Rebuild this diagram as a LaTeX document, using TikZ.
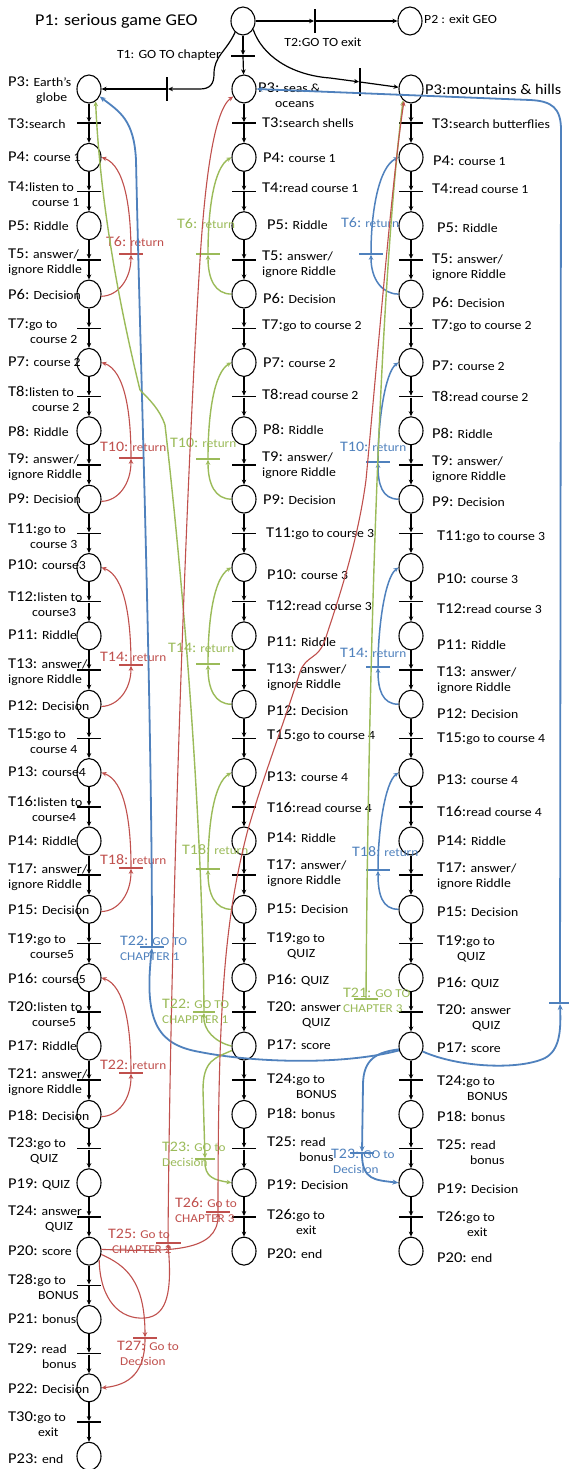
\documentclass[tikz,border=0pt]{standalone}
\usepackage{fontspec}
\setmainfont{Carlito}[FakeStretch=1.1]
\usetikzlibrary{shapes.geometric,arrows.meta}
\definecolor{pnred}{RGB}{192,80,77}
\definecolor{pngreen}{RGB}{155,187,89}
\definecolor{pnblue}{RGB}{79,129,189}
% larger type for the P/T identifiers
\newcommand{\tg}[1]{{\fontsize{15}{15}\selectfont #1}}
% identifiers of the coloured transitions
\newcommand{\tc}[1]{{\fontsize{14.5}{15}\selectfont #1}}
% label node: name, x, y, text
\newcommand{\lb}[4]{\node[lbl] (#1) at (#2,#3) {#4};}
% coloured label node: name, x, y, text, colour
\newcommand{\clb}[5]{\node[clbl,text=#5] (#1) at (#2,#3) {#4};}

\begin{document}
\begin{tikzpicture}[x=1pt,y=-1pt,
  place/.style={draw,ellipse,line width=1.1pt,minimum width=24pt,minimum height=28pt,inner sep=0pt},
  hbar/.style={fill=#1,inner sep=0pt,minimum width=24pt,minimum height=1.5pt},
  hbar/.default=black,
  vbar/.style={fill=black,inner sep=0pt,minimum width=1.5pt,minimum height=24pt},
  flow/.style={line width=1.2pt,-{Stealth[length=5pt,width=4.5pt]}},
  redL/.style={draw=pnred,line width=1.1pt,-{Stealth[length=5pt,width=4.5pt]}},
  greenL/.style={draw=pngreen,line width=1.4pt,-{Stealth[length=5pt,width=4.5pt]}},
  blueR/.style={draw=pnblue,line width=1.5pt,-{Stealth[length=5pt,width=4.5pt]}},
  blueL/.style={draw=pnblue,line width=1.8pt,-{Stealth[length=6pt,width=5pt]}},
  lbl/.style={anchor=west,inner sep=0pt,align=left,font=\fontsize{12.5}{15}\selectfont},
  clbl/.style={anchor=west,inner sep=0pt,align=left,font=\fontsize{12}{15}\selectfont},
]
\fill[white] (0,0) rectangle (569,1469);
\useasboundingbox (0,0) rectangle (569,1469);

% ---------- top level ----------
\node[place] (P1) at (243,21) {};
\node[place] (P2) at (410,21) {};
\node[vbar] (tT2) at (315,21) {};
\node[hbar] (tT1) at (243,56) {};
\node[vbar] (tL) at (167,89) {};
\node[vbar,minimum height=28pt] (tR) at (360,82) {};

\node[inner sep=0pt,anchor=west,font=\fontsize{16.5}{17}\selectfont] (tP1) at (35,21) {P1: serious game GEO};
\lb{tP2}{424}{19}{P2 : exit GEO}
\node[lbl,anchor=center] (tT2t) at (323,42) {T2:GO TO exit};
\node[lbl,anchor=east] (tT1t) at (221,55) {T1: GO TO chapter};

% ---------- the three chapter columns ----------
\foreach \r in {0,2,...,40} \node[place] (L\r) at (89,{89+34.18*\r}) {};
\foreach \r in {1,3,...,39} \node[hbar] (L\r) at (89,{89+34.18*\r}) {};
\foreach \r [count=\n from 1] in {0,...,39} \draw[flow] (L\r) -- (L\n);

\foreach \r in {0,2,...,34} \node[place] (M\r) at (244,{89+34.18*\r}) {};
\foreach \r in {1,3,...,33} \node[hbar] (M\r) at (244,{89+34.18*\r}) {};
\foreach \r [count=\n from 1] in {0,...,33} \draw[flow] (M\r) -- (M\n);

\foreach \r in {0,2,...,34} \node[place] (R\r) at (411,{89+34.18*\r}) {};
\foreach \r in {1,3,...,33} \node[hbar] (R\r) at (411,{89+34.18*\r}) {};
\foreach \r [count=\n from 1] in {0,...,33} \draw[flow] (R\r) -- (R\n);

% top arcs
\draw[flow] (P1) -- (tT2);
\draw[flow] (tT2) -- (P2);
\draw[flow] (P1) -- (tT1);
\draw[flow] (tT1) -- (M0);
\draw[flow] (P1.235) .. controls (226,52) and (214,56) .. (214,74) .. controls (214,84) and (210,89) .. (200,89) -- (tL);
\draw[flow] (tL) -- (L0);
\draw[flow] (P1.-40) .. controls (262,55) and (290,75) .. (330,78) -- (tR);
\draw[flow] (tR) -- (R0);

% ---------- labels, chapter 1 ----------
\lb{lP3}{8}{90}{\tg{P3:} Earth’s\\\hspace*{28pt}globe}
\lb{lT3}{8}{124}{\tg{T3:}search}
\lb{lP4}{8}{157}{\tg{P4:} course 1}
\lb{lT4}{8}{194}{\tg{T4:}listen to\\\hspace*{24pt}course 1}
\lb{lP5}{8}{226}{\tg{P5:} Riddle}
\lb{lT5}{8}{262}{\tg{T5:} answer/\\ignore Riddle}
\lb{lP6}{8}{294}{\tg{P6:} Decision}
\lb{lT7}{8}{331}{\tg{T7:}go to\\\hspace*{22pt}course 2}
\lb{lP7}{8}{362}{\tg{P7:} course 2}
\lb{lT8}{8}{399}{\tg{T8:}listen to\\\hspace*{24pt}course 2}
\lb{lP8}{8}{431}{\tg{P8:} Riddle}
\lb{lT9}{8}{467}{\tg{T9:} answer/\\ignore Riddle}
\lb{lP9}{8}{499}{\tg{P9:} Decision}
\lb{lT11}{8}{536}{\tg{T11:}go to\\\hspace*{22pt}course 3}
\lb{lP10}{8}{565}{\tg{P10:} course3}
\lb{lT12}{8}{604}{\tg{T12:}listen to\\\hspace*{24pt}course3}
\lb{lP11}{8}{635}{\tg{P11:} Riddle}
\lb{lT13}{8}{672}{\tg{T13:} answer/\\ignore Riddle}
\lb{lP12}{8}{706}{\tg{P12:} Decision}
\lb{lT15}{8}{741}{\tg{T15:}go to\\\hspace*{22pt}course 4}
\lb{lP13}{8}{772}{\tg{P13:} course4}
\lb{lT16}{8}{809}{\tg{T16:}listen to\\\hspace*{24pt}course4}
\lb{lP14}{8}{841}{\tg{P14:} Riddle}
\lb{lT17}{8}{877}{\tg{T17:} answer/\\ignore Riddle}
\lb{lP15}{8}{910}{\tg{P15:} Decision}
\lb{lT19}{8}{946}{\tg{T19:}go to\\\hspace*{22pt}course5}
\lb{lP16}{8}{978}{\tg{P16:} course5}
\lb{lT20}{8}{1014}{\tg{T20:}listen to\\\hspace*{24pt}course5}
\lb{lP17}{8}{1046}{\tg{P17:} Riddle}
\lb{lT21}{8}{1082}{\tg{T21:} answer/\\ignore Riddle}
\lb{lP18}{8}{1115}{\tg{P18:} Decision}
\lb{lT23}{8}{1151}{\tg{T23:}go to\\\hspace*{22pt}QUIZ}
\lb{lP19}{8}{1184}{\tg{P19:} QUIZ}
\lb{lT24}{8}{1219}{\tg{T24:} answer\\\hspace*{37pt}QUIZ}
\lb{lP20}{8}{1251}{\tg{P20:} score}
\lb{lT28}{8}{1287}{\tg{T28:}go to\\\hspace*{30pt}BONUS}
\lb{lP21}{8}{1319}{\tg{P21:} bonus}
\lb{lT29}{8}{1356}{\tg{T29:} read\\\hspace*{34pt}bonus}
\lb{lP22}{8}{1389}{\tg{P22:} Decision}
\lb{lT30}{8}{1424}{\tg{T30:}go to\\\hspace*{30pt}exit}
\lb{lP23}{8}{1459}{\tg{P23:} end}

% ---------- labels, chapter 2 ----------
\lb{mP3}{258}{95}{\tg{P3:} seas \&\\\hspace*{17pt}oceans}
\lb{mT3}{262}{123}{\tg{T3:}search shells}
\lb{mP4}{263}{158}{\tg{P4:} course 1}
\lb{mT4}{262}{188}{\tg{T4:}read course 1}
\lb{mP5}{267}{225}{\tg{P5:} Riddle}
\lb{mT5}{262}{264}{\tg{T5:} answer/\\ignore Riddle}
\lb{mP6}{263}{298}{\tg{P6:} Decision}
\lb{mT7}{262}{326}{\tg{T7:}go to course 2}
\lb{mP7}{263}{363}{\tg{P7:} course 2}
\lb{mT8}{262}{394}{\tg{T8:}read course 2}
\lb{mP8}{263}{429}{\tg{P8:} Riddle}
\lb{mT9}{262}{465}{\tg{T9:} answer/\\ignore Riddle}
\lb{mP9}{263}{500}{\tg{P9:} Decision}
\lb{mT11}{266}{534}{\tg{T11:}go to course 3}
\lb{mP10}{267}{575}{\tg{P10:} course 3}
\lb{mT12}{267}{606}{\tg{T12:}read course 3}
\lb{mP11}{267}{642}{\tg{P11:} Riddle}
\lb{mT13}{267}{677}{\tg{T13:} answer/\\ignore Riddle}
\lb{mP12}{267}{711}{\tg{P12:} Decision}
\lb{mT15}{267}{736}{\tg{T15:}go to course 4}
\lb{mP13}{267}{777}{\tg{P13:} course 4}
\lb{mT16}{267}{807}{\tg{T16:}read course 4}
\lb{mP14}{267}{838}{\tg{P14:} Riddle}
\lb{mT17}{267}{873}{\tg{T17:} answer/\\ignore Riddle}
\lb{mP15}{267}{909}{\tg{P15:} Decision}
\lb{mT19}{267}{946}{\tg{T19:}go to\\\hspace*{20pt}QUIZ}
\lb{mP16}{267}{980}{\tg{P16:} QUIZ}
\lb{mT20}{267}{1015}{\tg{T20:} answer\\\hspace*{35pt}QUIZ}
\lb{mP17}{267}{1045}{\tg{P17:} score}
\lb{mT24}{267}{1086}{\tg{T24:}go to\\\hspace*{29pt}BONUS}
\lb{mP18}{267}{1113}{\tg{P18:} bonus}
\lb{mT25}{267}{1149}{\tg{T25:} read\\\hspace*{32pt}bonus}
\lb{mP19}{267}{1185}{\tg{P19:} Decision}
\lb{mT26}{267}{1222}{\tg{T26:}go to\\\hspace*{29pt}exit}
\lb{mP20}{267}{1254}{\tg{P20:} end}

% ---------- labels, chapter 3 ----------
\lb{rP3}{425}{89}{\tg{P3:}{\fontsize{14.8}{15}\selectfont mountains \& hills}}
\lb{rT3}{432}{124}{\tg{T3:}search butterflies}
\lb{rP4}{433}{161}{\tg{P4:} course 1}
\lb{rT4}{432}{189}{\tg{T4:}read course 1}
\lb{rP5}{437}{228}{\tg{P5:} Riddle}
\lb{rT5}{432}{267}{\tg{T5:} answer/\\ignore Riddle}
\lb{rP6}{432}{302}{\tg{P6:} Decision}
\lb{rT7}{432}{326}{\tg{T7:}go to course 2}
\lb{rP7}{432}{366}{\tg{P7:} course 2}
\lb{rT8}{432}{396}{\tg{T8:}read course 2}
\lb{rP8}{432}{433}{\tg{P8:} Riddle}
\lb{rT9}{432}{469}{\tg{T9:} answer/\\ignore Riddle}
\lb{rP9}{432}{502}{\tg{P9:} Decision}
\lb{rT11}{437}{537}{\tg{T11:}go to course 3}
\lb{rP10}{437}{579}{\tg{P10:} course 3}
\lb{rT12}{437}{609}{\tg{T12:}read course 3}
\lb{rP11}{437}{645}{\tg{P11:} Riddle}
\lb{rT13}{437}{680}{\tg{T13:} answer/\\ignore Riddle}
\lb{rP12}{437}{714}{\tg{P12:} Decision}
\lb{rT15}{437}{739}{\tg{T15:}go to course 4}
\lb{rP13}{437}{780}{\tg{P13:} course 4}
\lb{rT16}{437}{811}{\tg{T16:}read course 4}
\lb{rP14}{437}{841}{\tg{P14:} Riddle}
\lb{rT17}{437}{876}{\tg{T17:} answer/\\ignore Riddle}
\lb{rP15}{437}{912}{\tg{P15:} Decision}
\lb{rT19}{437}{949}{\tg{T19:}go to\\\hspace*{20pt}QUIZ}
\lb{rP16}{437}{983}{\tg{P16:} QUIZ}
\lb{rT20}{437}{1018}{\tg{T20:} answer\\\hspace*{35pt}QUIZ}
\lb{rP17}{437}{1048}{\tg{P17:} score}
\lb{rT24}{437}{1088}{\tg{T24:}go to\\\hspace*{30pt}BONUS}
\lb{rP18}{437}{1116}{\tg{P18:} bonus}
\lb{rT25}{437}{1152}{\tg{T25:} read\\\hspace*{33pt}bonus}
\lb{rP19}{437}{1189}{\tg{P19:} Decision}
\lb{rT26}{437}{1224}{\tg{T26:}go to\\\hspace*{30pt}exit}
\lb{rP20}{437}{1258}{\tg{P20:} end}

% ---------- return transitions ----------
% chapter 1 (red, right of the column)
\foreach \pd/\pc/\yb/\kk in {6/2/254/6, 12/8/458/10, 18/14/665/14, 24/20/868/18, 30/26/1073/22} {
  \pgfmathsetmacro\yd{89+34.18*\pd}
  \pgfmathsetmacro\yc{89+34.18*\pc}
  \node[hbar=pnred,minimum height=1.2pt] (lr\kk) at (131,\yb) {};
  \draw[redL] (L\pd.-10) .. controls (118,\yd+2) and (131,\yd-15) .. (lr\kk.south);
  \draw[redL] (lr\kk.north) .. controls (131,\yb-45) and (125,\yc+8) .. (L\pc.east);
}
\clb{lr6t}{106}{242}{\tc{T6:} return}{pnred}
\clb{lr10t}{100}{447}{\tc{T10:} return}{pnred}
\clb{lr14t}{100}{657}{\tc{T14:} return}{pnred}
\clb{lr18t}{100}{860}{\tc{T18:} return}{pnred}
\clb{lr22t}{100}{1065}{\tc{T22:} return}{pnred}

% chapter 2 (green, left of the column)
\foreach \pd/\pc/\yb/\kk in {6/2/254/6, 12/8/459/10, 18/14/664/14, 24/20/869/18} {
  \pgfmathsetmacro\yd{89+34.18*\pd}
  \pgfmathsetmacro\yc{89+34.18*\pc}
  \node[hbar=pngreen,minimum height=1.2pt] (mg\kk) at (208,\yb) {};
  \draw[greenL] (M\pd.west) .. controls (215,\yd) and (208,\yd-15) .. (mg\kk.south);
  \draw[greenL] (mg\kk.north) .. controls (208,\yb-45) and (214,\yc+10) .. (M\pc.west);
}
\clb{mg6t}{177}{224}{\tc{T6:} return}{pngreen}
\clb{mg10t}{170}{443}{\tc{T10:} return}{pngreen}
\clb{mg14t}{168}{648}{\tc{T14:} return}{pngreen}
\clb{mg18t}{182}{850}{\tc{T18:} return}{pngreen}

% chapter 3 (blue, left of the column)
\foreach \pd/\pc/\yb/\xb/\kk in {6/2/254/371/6, 12/8/462/378/10, 18/14/667/378/14, 24/20/870/378/18} {
  \pgfmathsetmacro\yd{89+34.18*\pd}
  \pgfmathsetmacro\yc{89+34.18*\pc}
  \node[hbar=pnblue,minimum height=1.2pt] (rb\kk) at (\xb,\yb) {};
  \draw[blueR] (R\pd.west) .. controls (382,\yd) and (\xb,\yd-15) .. (rb\kk.south);
  \draw[blueR] (rb\kk.north) .. controls (\xb,\yb-40) and (\xb+7,\yc+10) .. (R\pc.west);
}
\clb{rb6t}{341}{223}{\tc{T6:} return}{pnblue}
\clb{rb10t}{340}{447}{\tc{T10:} return}{pnblue}
\clb{rb14t}{340}{653}{\tc{T14:} return}{pnblue}
\clb{rb18t}{352}{852}{\tc{T18:} return}{pnblue}

% ---------- jumps between chapters ----------
\node[hbar=pnblue,minimum height=1.5pt] (bT22) at (152,947) {};
\node[hbar=pngreen,minimum width=22pt,minimum height=1.3pt] (gT22) at (204,1012) {};
\node[hbar=pngreen,minimum height=1.3pt] (gT21) at (366,999) {};
\node[hbar=pngreen,minimum width=20pt,minimum height=1.3pt] (gT23) at (205,1159) {};
\node[hbar=pnblue,minimum height=1.5pt] (bT23) at (362,1153) {};
\node[hbar=pnred,minimum width=25pt,minimum height=1.2pt] (rT25) at (168,1243) {};
\node[hbar=pnred,minimum height=1.2pt] (rT26) at (218,1212) {};
\node[hbar=pnred,minimum height=1.2pt] (rT27) at (145,1338) {};
\node[hbar=pnblue,minimum width=22pt,minimum height=1.5pt] (bR) at (560,1003) {};

% chapter 3 score -> chapter 1
\draw[blueL] (R28.200) .. controls (340,1066) and (250,1062) .. (200,1052) .. controls (160,1045) and (143,1025) .. (bT22.south);
\draw[blueL] (bT22.north) .. controls (152,700) and (140,350) .. (136,160) .. controls (134,120) and (120,112) .. (L0.-35);
% chapter 3 score -> chapter 2
\draw[blueL] (R28.-25) .. controls (460,1068) and (520,1070) .. (545,1058) .. controls (560,1050) and (561,1030) .. (bR.south);
\draw[blueL] (bR.north) -- (561,130) .. controls (561,108) and (552,101) .. (530,100) -- (M0.east);
% chapter 3 score -> decision
\draw[blueL] (R28.195) .. controls (378,1052) and (363,1058) .. (363,1085) -- (bT23.north);
\draw[blueL] (bT23.south) .. controls (362,1180) and (375,1180) .. (R32.west);

% chapter 2 score -> chapter 1
\draw[greenL] (M28.west) .. controls (215,1042) and (203,1030) .. (gT22.south);
\draw[greenL] (gT22.north) .. controls (202,820) and (185,600) .. (165,425) .. controls (160,410) and (150,400) .. (140,390) .. controls (118,300) and (100,200) .. (L0.-62);
% chapter 2 -> chapter 3
\draw[greenL] (gT21.north) .. controls (368,700) and (378,300) .. (R0.235);
% chapter 2 score -> decision
\draw[greenL] (M28.200) .. controls (215,1058) and (203,1060) .. (203,1090) -- (gT23.north);
\draw[greenL] (gT23.south) .. controls (204,1178) and (215,1180) .. (M32.west);

% chapter 1 score -> chapter 2
\draw[redL] (L34.-40) .. controls (100,1300) and (120,1320) .. (145,1318) .. controls (168,1316) and (172,1290) .. (rT25.south);
\draw[redL] (rT25.north) .. controls (170,950) and (185,500) .. (200,260) .. controls (205,180) and (214,110) .. (M0.215);
% chapter 1 score -> chapter 3
\draw[redL] (L34.8) .. controls (170,1252) and (218,1252) .. (rT26.south);
\draw[redL] (rT26.north) .. controls (218,1000) and (225,920) .. (247,833) .. controls (262,780) and (285,720) .. (300,672) .. controls (306,655) and (318,660) .. (325,640) .. controls (340,595) and (358,540) .. (366,480) .. controls (380,330) and (392,180) .. (R0.240);
% chapter 1 score -> decision
\draw[redL] (L34.-15) .. controls (125,1265) and (145,1280) .. (rT27.north);
\draw[redL] (rT27.south) .. controls (145,1372) and (130,1385) .. (L38.east);

% labels of the jumps
\clb{bT22t}{120}{948}{\tc{T22:} GO TO\\CHAPTER 1}{pnblue}
\clb{gT22t}{162}{1011}{\tc{T22:} GO TO\\CHAPPTER 1}{pngreen}
\clb{gT21t}{343}{1000}{\tc{T21:} GO TO\\CHAPTER 3}{pngreen}
\clb{gT23t}{162}{1154}{\tc{T23:} GO to\\Decision}{pngreen}
\clb{bT23t}{331}{1161}{\tc{T23:} GO to\\\hspace*{2pt}Decision}{pnblue}
\clb{rT25t}{108}{1241}{\tc{T25:} Go to\\\hspace*{4pt}CHAPTER 2}{pnred}
\clb{rT26t}{175}{1210}{\tc{T26:} Go to\\CHAPTER 3}{pnred}
\clb{rT27t}{117}{1353}{\tc{T27:} Go to\\\hspace*{3pt}Decision}{pnred}
\end{tikzpicture}
\end{document}
